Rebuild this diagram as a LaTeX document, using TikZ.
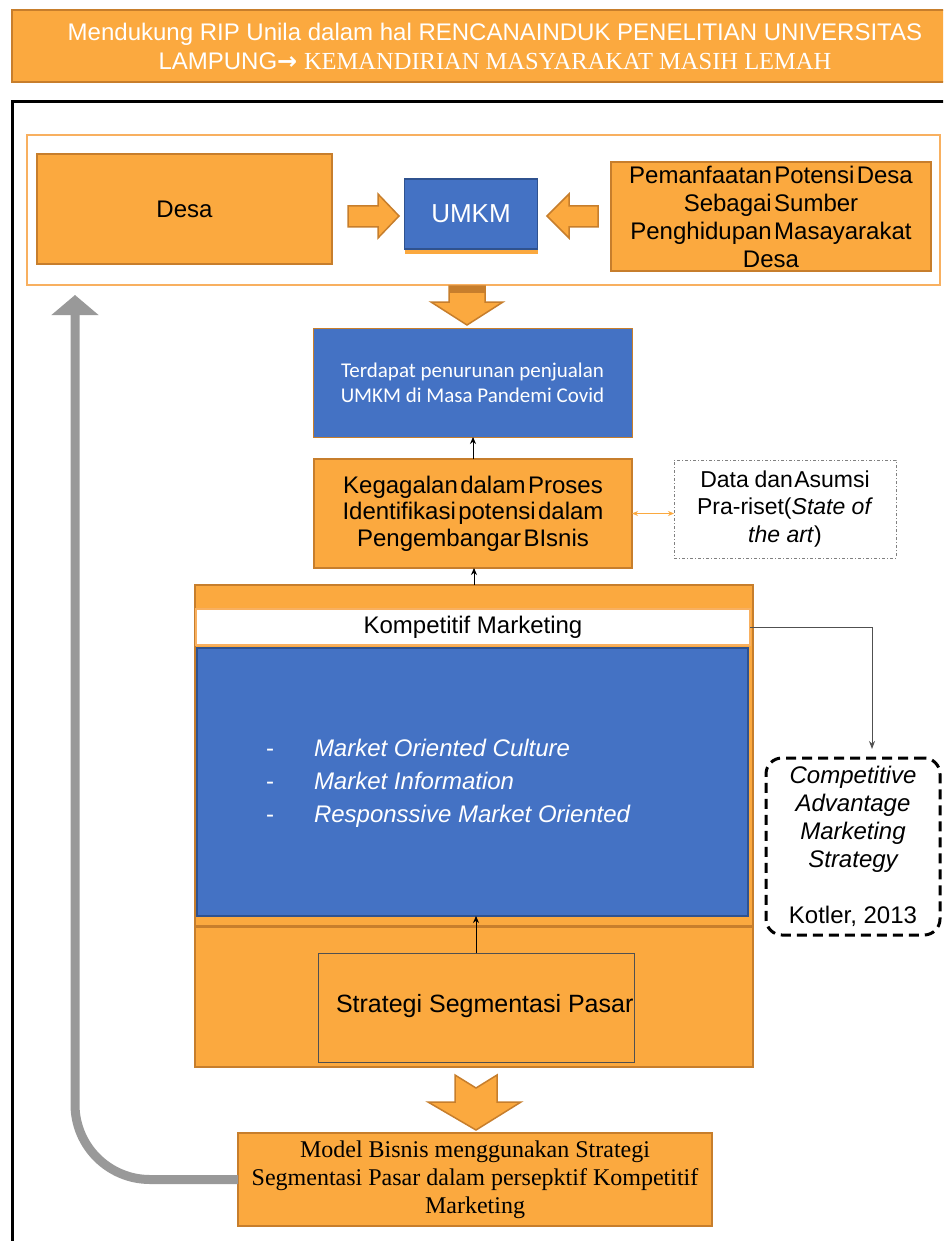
\documentclass[tikz,border=0pt]{standalone}
\usepackage{fontspec}
\setmainfont{Liberation Sans}
\newfontfamily\seriffont{Liberation Serif}
\newfontfamily\calibfont{Carlito}
\newfontfamily\dvfont{DejaVu Sans}
\usetikzlibrary{arrows.meta}
\definecolor{orf}{HTML}{FBA93F}
\definecolor{ord}{HTML}{C77E2C}
\definecolor{orl}{HTML}{F8B060}
\definecolor{blf}{HTML}{4472C4}
\definecolor{bld}{HTML}{2F528F}
\definecolor{gry}{HTML}{999999}
\definecolor{dgr}{HTML}{505050}
\newcommand\fs[2]{\fontsize{#1}{#2}\selectfont}
\newcommand\tightsp{\spaceskip=0.1em\relax}
\begin{document}
\begin{tikzpicture}[x=1pt,y=-1pt,
  every node/.style={inner sep=0pt, outer sep=0pt},
  obox/.style={draw=ord, fill=orf, line width=1.5pt},
  bbox/.style={draw=bld, fill=blf, line width=1.5pt},
  sz/.style 2 args={minimum width=#1pt, minimum height=#2pt},
  barrow/.style={fill=orf, draw=ord, line width=1.5pt, line join=miter},
  tipline/.style={-{Stealth[length=7pt,width=6pt]}, line width=0.8pt, black},
]
\useasboundingbox (0,0) rectangle (943,1241);
\clip (0,0) rectangle (943,1241);
\fill[white] (0,0) rectangle (943,1241);

% title
\node[obox, sz={966}{72}] (title) at (495,46) {};
\node[text=white, align=center, font=\fs{24}{29}] (titletext) at (495,46)
  {Mendukung RIP Unila dalam hal RENCANAINDUK PENELITIAN UNIVERSITAS\\
   LAMPUNG{\dvfont\bfseries →} {\seriffont\fs{24.5}{29}KEMANDIRIAN MASYARAKAT MASIH LEMAH}};

% black frame
\draw[black, line width=3pt] (12,1300) -- (12,102) -- (1000,102);

% outer orange outline box
\node[draw=orl, fill=white, line width=2pt, sz={913}{150}] (outer) at (483.5,210) {};
\node[obox, sz={295}{110}, font=\fs{24}{28}] (desa) at (184.5,209) {Desa};
\fill[orf] (405,248) rectangle (538,254);
\node[bbox, sz={133}{70}, text=white, font=\fs{26}{30}] (umkm) at (471,214) {UMKM};
\node[obox, sz={320}{109}, align=center, font=\fs{24}{28}\tightsp] (pot) at (771,216.5)
  {Pemanfaatan Potensi Desa\\Sebagai Sumber\\Penghidupan Masayarakat\\Desa};

% block arrows top
\draw[barrow] (348,206) -- (378,206) -- (378,194) -- (399,216) -- (378,238) -- (378,227) -- (348,227) -- cycle;
\draw[barrow] (598,206) -- (569,206) -- (569,194) -- (547,216) -- (569,238) -- (569,227) -- (598,227) -- cycle;
\draw[barrow] (449,286) -- (485,286) -- (485,302) -- (503,302) -- (467,325) -- (431,302) -- (449,302) -- cycle;
\fill[ord] (449,286) rectangle (485,293);

% Terdapat
\node[fill=blf, draw=ord, line width=1pt, sz={319}{109}, text=white, align=center,
      font=\calibfont\fs{21}{25}] (terd) at (472.5,382.5)
  {Terdapat penurunan penjualan\\UMKM di Masa Pandemi Covid};

% Kegagalan
\node[obox, sz={318}{109}, align=center, font=\fs{24}{26.5}\tightsp] (keg) at (473,513.5)
  {Kegagalan dalam Proses\\Identifikasi potensi dalam\\Pengembangar BIsnis};

% Data dan Asumsi
\node[draw=gray, line width=1pt, dash pattern=on 3pt off 2pt on 1pt off 2pt,
      sz={222}{98}, align=center, font=\fs{23}{27.5}] (data) at (785,509)
  {Data\hspace{0.25em}dan\hspace{0.06em}Asumsi\\Pra-riset(\textit{State of}\\\textit{the art})};

\draw[orf, line width=1.2pt, {Stealth[length=6pt,width=5pt]}-{Stealth[length=6pt,width=5pt]}]
  (keg.east) -- (keg.east -| data.west);
\draw[tipline] (keg.north) -- (keg.north |- terd.south);

% big box
\node[obox, sz={558}{341}] (upper) at (474,755.5) {};
\node[obox, sz={558}{140}] (lower) at (474,997) {};
\node[draw=orl, fill=white, line width=1.5pt, sz={554}{36}, font=\fs{24}{28}] (kom) at (473,627)
  {Kompetitif Marketing};
\node[bbox, sz={551}{268}] (mkt) at (472.5,782) {};
\node[anchor=west, text=white, font=\fs{24}{33}\itshape] (mtxt) at (266,783)
  {\begin{tabular}{@{}p{48pt}@{}l@{}}
   \upshape - & Market Oriented Culture\\
   \upshape - & Market Information\\
   \upshape - & Responssive Market Oriented
   \end{tabular}};
\node[draw=dgr, line width=1pt, sz={316}{109}] (strat) at (476,1007.5) {};
\node[anchor=west, font=\fs{25}{28}] (stext) at (336,1006) {Strategi Segmentasi Pasar};
\draw[tipline] (upper.north) -- (upper.north |- keg.south);
\draw[tipline] (strat.north) -- (strat.north |- mkt.south);

% Competitive box
\node[draw=black, line width=3pt, dash pattern=on 10pt off 6pt, rounded corners=16pt,
      sz={174}{177}, align=center, font=\fs{24}{28}\itshape] (comp) at (853,846.5)
  {Competitive\\Advantage\\Marketing\\Strategy\\[28pt]\upshape Kotler, 2013};
\draw[dgr, line width=1pt, -{Stealth[length=8pt,width=6pt]}, shorten >=9pt]
  (kom.east) -| ([xshift=19pt]comp.north);

% bottom arrow
\draw[barrow] (455,1075) -- (476,1088) -- (497,1075) -- (497,1102) -- (521,1102) -- (476,1130) -- (428,1102) -- (455,1102) -- cycle;

% Model
\node[obox, sz={474}{93}, align=center, font=\seriffont\fs{24}{28}] (model) at (475,1179.5)
  {Model Bisnis menggunakan Strategi\\Segmentasi Pasar dalam persepktif Kompetitif\\Marketing};

% gray feedback arrow
\draw[gry, line width=9pt, rounded corners=75pt, -{Triangle[width=46pt,length=20pt]}]
  (model.west) -- (75,1179.5) -- (75,295);
\end{tikzpicture}
\end{document}
